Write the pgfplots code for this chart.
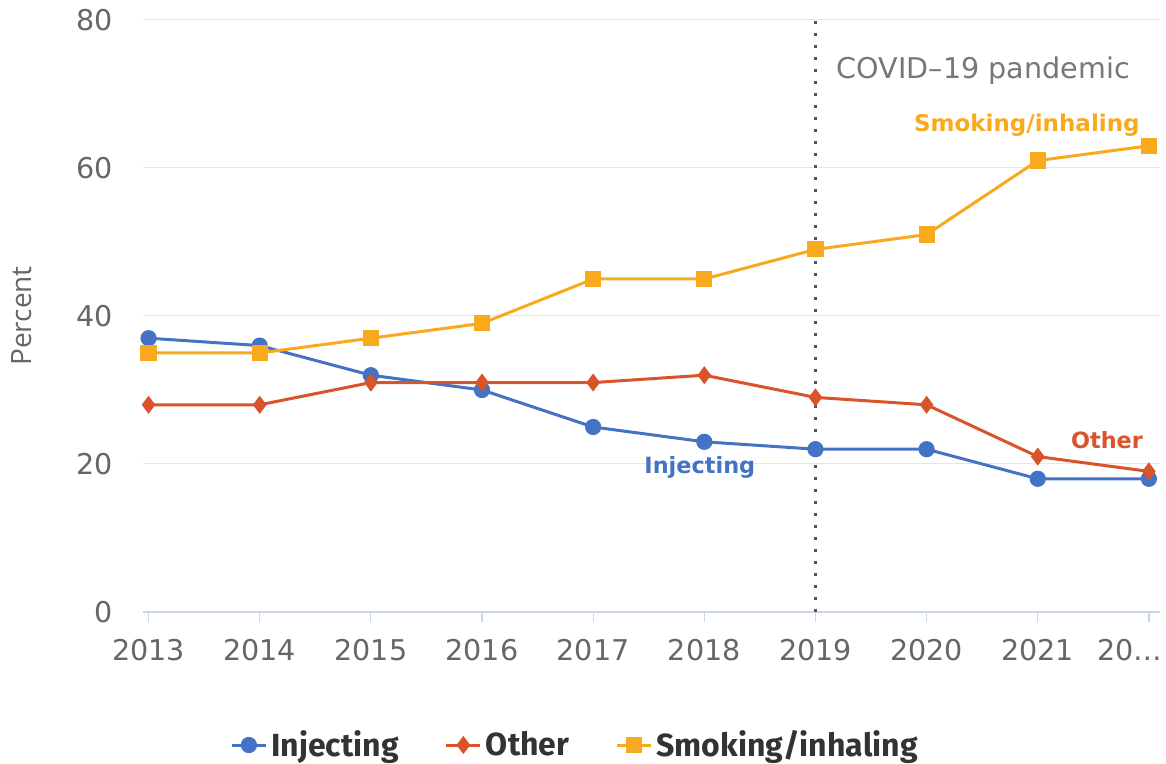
\documentclass[border=0pt]{standalone}
\usepackage{fontspec}
\setmainfont{DejaVu Sans}
\newfontfamily\legfont{Fira Sans}
\newfontfamily\labfont{Open Sans}
\usepackage{pgfplots}
\pgfplotsset{compat=1.18}
\definecolor{blueC}{HTML}{4472C4}
\definecolor{redC}{HTML}{D9542A}
\definecolor{yelC}{HTML}{F8A91D}
\definecolor{gridc}{HTML}{E6E6E6}
\definecolor{axisc}{HTML}{CCD6EB}
\definecolor{tickc}{HTML}{666666}
\definecolor{covc}{HTML}{777777}
\definecolor{dotc}{HTML}{555555}
\definecolor{legc}{HTML}{333333}
\begin{document}
\begin{tikzpicture}
\begin{axis}[
  scale only axis, width=508.5pt, height=296pt,
  xmin=2012.95, xmax=2022.1, ymin=0, ymax=80,
  xtick={2013,2014,2015,2016,2017,2018,2019,2020,2021,2022},
  xticklabels={2013,2014,2015,2016,2017,2018,2019,2020,2021,\hspace*{-19pt}20…},
  ytick={0,20,40,60,80},
  ymajorgrids, grid style={color=gridc, line width=0.5pt},
  axis x line*=bottom, axis y line*=left,
  x axis line style={color=axisc, line width=0.6pt},
  y axis line style={draw=none},
  tick label style={font=\fontsize{14.3}{16}\selectfont, color=tickc},
  /pgf/number format/assume math mode=true,
  xtick align=outside, major tick length=5pt,
  x tick style={color=axisc, line width=0.6pt},
  y tick style={draw=none},
  yticklabel style={xshift=-11.5pt},
  xticklabel style={yshift=-5pt},
  ylabel={Percent},
  ylabel style={at={(axis description cs:-0.119,0.5)}, anchor=center, font=\labfont\fontsize{14}{16}\selectfont, color=tickc},
  legend style={at={(axis description cs:0.4258,-0.2247)}, anchor=center, draw=none, fill=none,
    legend columns=-1, font=\legfont\bfseries\fontsize{16}{18}\selectfont, text=legc,
    /tikz/every even column/.append style={column sep=21pt}},
  legend cell align=left,
]
\addplot[color=blueC, line width=1.5pt, mark=*, mark size=3.3pt, mark options={solid}] coordinates {
(2013,37) (2014,36) (2015,32) (2016,30) (2017,25) (2018,23) (2019,22) (2020,22) (2021,18) (2022,18)};
\addlegendentry{Injecting}
\addplot[color=redC, line width=1.5pt, mark=diamond*, mark size=3.3pt, mark options={solid}] coordinates {
(2013,28) (2014,28) (2015,31) (2016,31) (2017,31) (2018,32) (2019,29) (2020,28) (2021,21) (2022,19)};
\addlegendentry{Other}
\addplot[color=yelC, line width=1.5pt, mark=square*, mark size=3.3pt, mark options={solid}] coordinates {
(2013,35) (2014,35) (2015,37) (2016,39) (2017,45) (2018,45) (2019,49) (2020,51) (2021,61) (2022,63)};
\addlegendentry{Smoking/inhaling}
\addplot[forget plot, color=dotc, line width=1.3pt, dash pattern=on 1.3pt off 4.7pt] coordinates {(2019,0) (2019,80)};
\node[anchor=west, inner sep=0pt, color=covc, font=\fontsize{14.3}{16}\selectfont] at (axis cs:2019.19,73.2) {COVID–19 pandemic};
\node[anchor=east, inner sep=0pt, color=yelC, font=\bfseries\fontsize{11.5}{14}\selectfont] at (axis cs:2021.92,65.8) {Smoking/inhaling};
\node[anchor=east, inner sep=0pt, color=redC, font=\bfseries\fontsize{11.2}{14}\selectfont] at (axis cs:2021.95,23.2) {Other};
\node[anchor=center, color=blueC, font=\bfseries\fontsize{11.2}{14}\selectfont] at (axis cs:2017.96,19.6) {Injecting};
\end{axis}
\pgfresetboundingbox
\path[use as bounding box] (-71.5pt,-76pt) rectangle (511.5pt,306pt);
\end{tikzpicture}
\end{document}
